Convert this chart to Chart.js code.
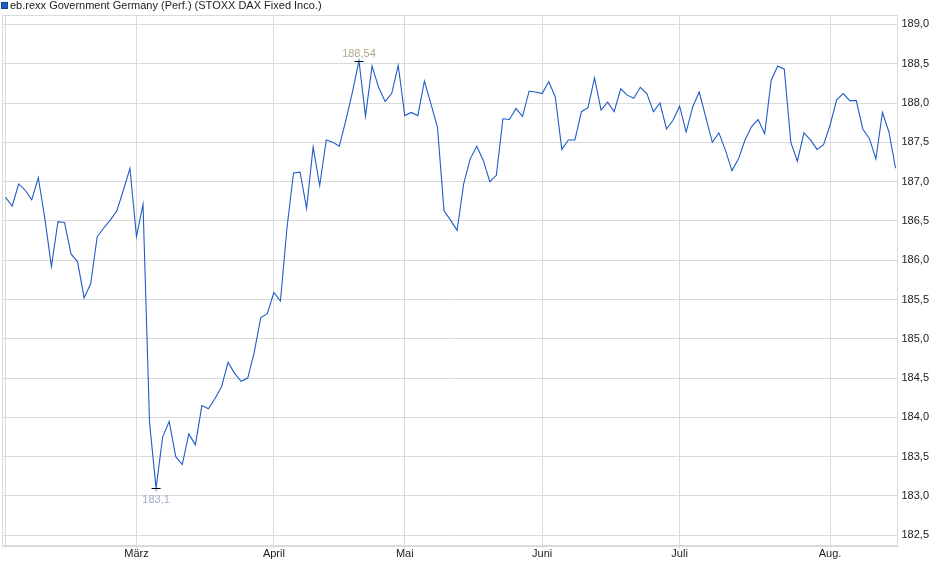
<!DOCTYPE html>
<html>
<head>
<meta charset="utf-8">
<script src="https://cdn.jsdelivr.net/npm/chart.js@4.4.1/dist/chart.umd.min.js"></script>
<style>
  html, body { margin: 0; padding: 0; background: #fff; }
  #wrap { width: 940px; height: 579px; }
</style>
</head>
<body>
<div id="wrap"><canvas id="chart" width="940" height="579"></canvas></div>
<script>
const seriesName = 'eb.rexx Government Germany (Perf.) (STOXX DAX Fixed Inco.)';

// one value per trading day, early Feb to mid Aug
const values = [
  186.80, 186.69, 186.97, 186.89, 186.77, 187.05, 186.53, 185.92, 186.49, 186.48,
  186.08, 185.98, 185.52, 185.70, 186.30, 186.41, 186.51, 186.63, 186.89, 187.17,
  186.30, 186.71, 183.93, 183.10, 183.75, 183.95, 183.50, 183.40, 183.79, 183.65,
  184.15, 184.11, 184.24, 184.39, 184.70, 184.56, 184.46, 184.50, 184.83, 185.27,
  185.32, 185.59, 185.48, 186.41, 187.11, 187.12, 186.66, 187.44, 186.95, 187.53,
  187.50, 187.45, 187.78, 188.14, 188.54, 187.83, 188.47, 188.20, 188.02, 188.12,
  188.48, 187.84, 187.88, 187.84, 188.28, 187.99, 187.69, 186.63, 186.51, 186.38,
  186.97, 187.29, 187.45, 187.27, 187.00, 187.08, 187.80, 187.79, 187.93, 187.83,
  188.15, 188.14, 188.12, 188.27, 188.08, 187.41, 187.53, 187.53, 187.89, 187.94,
  188.32, 187.91, 188.01, 187.89, 188.18, 188.10, 188.06, 188.20, 188.12, 187.89,
  188.00, 187.67, 187.78, 187.96, 187.63, 187.95, 188.14, 187.82, 187.50, 187.62,
  187.40, 187.14, 187.29, 187.53, 187.70, 187.79, 187.61, 188.29, 188.47, 188.43,
  187.50, 187.26, 187.62, 187.53, 187.41, 187.47, 187.72, 188.04, 188.12, 188.03,
  188.03, 187.67, 187.55, 187.29, 187.88, 187.63, 187.17
];

// first trading day of each month (index into values)
const monthTickIndex = [0, 20, 41, 61, 82, 103, 126];
const monthLabels = ['', 'März', 'April', 'Mai', 'Juni', 'Juli', 'Aug.'];

const yTicks = [182.5, 183.0, 183.5, 184.0, 184.5, 185.0, 185.5, 186.0, 186.5, 187.0, 187.5, 188.0, 188.5, 189.0];

const FONT = 'Liberation Sans, Arial, sans-serif';
const GRID = '#dadada';
const LINE = '#1f5cc6';

const fmt = (v, digits) => v.toFixed(digits).replace(/\.?0+$/, '').replace('.', ',');

const frame = {
  id: 'frame',
  beforeDatasetsDraw(chart) {
    const { ctx, chartArea: a } = chart;
    ctx.save();
    ctx.strokeStyle = GRID;
    ctx.lineWidth = 1;
    ctx.strokeRect(Math.round(a.left) + 0.5, Math.round(a.top) + 0.5,
      Math.round(a.right - a.left) - 1, Math.round(a.bottom - a.top));
    ctx.restore();
  }
};

const legendBox = {
  id: 'legendBox',
  afterDraw(chart) {
    const { ctx } = chart;
    ctx.save();
    ctx.fillStyle = LINE;
    ctx.fillRect(1, 2, 7, 7);
    ctx.strokeStyle = '#163f8a';
    ctx.lineWidth = 1;
    ctx.strokeRect(1.5, 2.5, 6, 6);
    ctx.fillStyle = '#222';
    ctx.font = '11px ' + FONT;
    ctx.textBaseline = 'middle';
    ctx.fillText(seriesName, 10, 5.5);
    ctx.restore();
  }
};

const extremes = {
  id: 'extremes',
  afterDatasetsDraw(chart) {
    const { ctx, scales } = chart;
    const hi = values.indexOf(Math.max(...values));
    const lo = values.indexOf(Math.min(...values));
    const mark = (i, color, dy) => {
      const px = scales.x.getPixelForValue(i);
      const py = Math.round(scales.y.getPixelForValue(values[i])) + 0.5;
      ctx.strokeStyle = '#000';
      ctx.lineWidth = 1;
      ctx.beginPath();
      ctx.moveTo(px - 4.5, py);
      ctx.lineTo(px + 4.5, py);
      ctx.stroke();
      ctx.fillStyle = color;
      ctx.font = '11px ' + FONT;
      ctx.textAlign = 'center';
      ctx.textBaseline = 'middle';
      ctx.fillText(fmt(values[i], 2), px, py + dy);
    };
    ctx.save();
    mark(hi, '#b3a68f', -8);
    mark(lo, '#9fb0cb', 11);
    ctx.restore();
  }
};

new Chart(document.getElementById('chart'), {
  type: 'line',
  data: {
    datasets: [{
      label: seriesName,
      data: values.map((v, i) => ({ x: i, y: v })),
      borderColor: LINE,
      borderWidth: 1.1,
      pointRadius: 0,
      tension: 0,
      fill: false
    }]
  },
  options: {
    responsive: false,
    animation: false,
    devicePixelRatio: 1,
    layout: { padding: { top: 15, left: 2, right: 0, bottom: 0 } },
    plugins: {
      legend: { display: false },
      tooltip: { enabled: false }
    },
    scales: {
      x: {
        type: 'linear',
        min: -0.55,
        max: 136.3,
        afterBuildTicks: (scale) => { scale.ticks = monthTickIndex.map((v) => ({ value: v })); },
        afterFit: (scale) => { scale.height = 33.5; },
        ticks: {
          autoSkip: false,
          maxRotation: 0,
          padding: -1,
          color: '#222',
          font: { family: FONT, size: 11 },
          callback: (v, i) => monthLabels[i]
        },
        grid: { color: GRID, tickLength: 3 },
        border: { color: GRID }
      },
      y: {
        position: 'right',
        min: 182.37,
        max: 189.12,
        afterBuildTicks: (scale) => { scale.ticks = yTicks.map((v) => ({ value: v })); },
        afterFit: (scale) => { scale.width = 42.5; },
        ticks: {
          padding: 4,
          color: '#222',
          font: { family: FONT, size: 11 },
          callback: (v) => v.toFixed(1).replace('.', ',')
        },
        grid: { color: GRID, drawTicks: false },
        border: { color: GRID }
      }
    }
  },
  plugins: [frame, legendBox, extremes]
});
</script>
</body>
</html>
